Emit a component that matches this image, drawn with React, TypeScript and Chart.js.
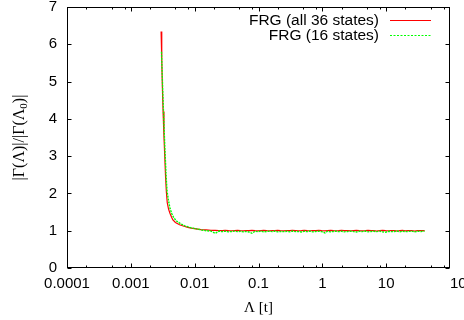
import React, { useEffect, useRef } from 'react';
import { Chart, registerables } from 'chart.js';

Chart.register(...registerables);

const xTickValues = [0.0001, 0.001, 0.01, 0.1, 1, 10, 100];
const xTickLabels = ['0.0001', '0.001', '0.01', '0.1', '1', '10', '100'];
const yTickValues = [0, 1, 2, 3, 4, 5, 6, 7];
const minorFactors = [2, 5, 8];
const seriesNames = ['FRG (all 36 states)', 'FRG (16 states)'];

const flatX = [
  0.021, 0.024, 0.027, 0.03, 0.034, 0.038, 0.042, 0.047, 0.052, 0.058,
  0.064, 0.071, 0.079, 0.088, 0.098, 0.11, 0.12, 0.135, 0.15, 0.165,
  0.18, 0.2, 0.22, 0.25, 0.28, 0.31, 0.34, 0.38, 0.42, 0.47,
  0.52, 0.58, 0.64, 0.71, 0.79, 0.88, 0.98, 1.1, 1.2, 1.35,
  1.5, 1.65, 1.8, 2.0, 2.2, 2.5, 2.8, 3.1, 3.4, 3.8,
  4.2, 4.7, 5.2, 5.8, 6.4, 7.1, 7.9, 8.8, 9.8, 11,
  12, 13.5, 15, 16.5, 18, 20, 22, 25, 28, 31,
  35, 40,
];

const redHeadX = [
  0.00298, 0.00305, 0.00312, 0.0032, 0.0033, 0.0034, 0.0035, 0.0036, 0.00372, 0.0039,
  0.0041, 0.00435, 0.00456, 0.005, 0.0058, 0.0068, 0.0078, 0.0089, 0.0105, 0.0125,
  0.0151, 0.018,
];
const redHeadY = [
  6.34, 5.6, 4.85, 4.2, 3.55, 3.0, 2.45, 2.05, 1.75, 1.58,
  1.47, 1.36, 1.29, 1.22, 1.16, 1.12, 1.09, 1.07, 1.05, 1.03,
  1.02, 1.01,
];
const redFlatY = [
  1.01, 1.005, 1.0, 1.01, 1.0, 0.995, 1.005, 1.01, 1.0, 0.995,
  1.005, 1.0, 1.01, 1.0, 0.995, 1.005, 1.01, 1.0, 0.995, 1.005,
  1.0, 1.01, 1.0, 0.995, 1.005, 1.0, 1.01, 1.005, 0.995, 1.0,
  1.01, 1.0, 0.995, 1.005, 1.0, 1.01, 1.0, 0.995, 1.005, 1.01,
  1.0, 0.995, 1.0, 1.01, 1.005, 1.0, 0.995, 1.005, 1.01, 1.0,
  0.995, 1.0, 1.01, 1.005, 1.0, 0.99, 1.0, 1.01, 1.0, 0.995,
  1.005, 1.0, 0.99, 1.0, 1.01, 0.995, 1.0, 1.005, 0.99, 1.0,
  1.005, 1.0,
];

const greenHeadX = [
  0.00302, 0.0031, 0.0032, 0.0033, 0.0034, 0.0035, 0.0036, 0.0037, 0.0039, 0.0041,
  0.0044, 0.0047, 0.0052, 0.006, 0.007, 0.008, 0.0092, 0.0108, 0.0128, 0.0151,
  0.018,
];
const greenHeadY = [
  5.8, 5.2, 4.5, 3.85, 3.3, 2.8, 2.35, 2.05, 1.8, 1.6,
  1.45, 1.35, 1.26, 1.19, 1.13, 1.1, 1.07, 1.05, 1.02, 1.0,
  0.99,
];
const greenFlatY = [
  0.93, 0.99, 0.975, 0.985, 0.97, 0.98, 0.99, 0.975, 0.985, 0.97,
  0.98, 0.965, 0.93, 0.985, 0.975, 0.99, 0.97, 0.98, 0.985, 0.975,
  0.99, 0.97, 0.98, 0.975, 0.985, 0.97, 0.99, 0.975, 0.98, 0.965,
  0.985, 0.975, 0.99, 0.97, 0.98, 0.985, 0.975, 0.94, 0.985, 0.97,
  0.98, 0.99, 0.975, 0.985, 0.97, 0.98, 0.99, 0.975, 0.965, 0.985,
  0.975, 0.99, 0.97, 0.98, 0.985, 0.975, 0.99, 0.97, 0.96, 0.985,
  0.975, 0.98, 0.99, 0.97, 0.985, 0.975, 0.98, 0.99, 0.97, 0.985,
  0.98, 0.99,
];

const SANS = '"Liberation Sans", Arial, sans-serif';
const SERIF = '"Liberation Serif", "Times New Roman", serif';
const RED = '#ff0000';
const GREEN = '#00ff00';
const LAST = xTickLabels.length - 1;

function toPoints(xs: number[], ys: number[]) {
  return xs.map((x, i) => ({ x, y: ys[i] }));
}

const framePlugin = {
  id: 'gnuplotFrame',
  afterDraw(chart: any) {
    const { ctx, chartArea: a, scales } = chart;
    const xs = scales.x;
    const ys = scales.y;
    ctx.save();
    ctx.strokeStyle = '#000';
    ctx.lineWidth = 1;
    const L = Math.round(a.left) + 0.5;
    const R = Math.round(a.right) - 0.5;
    const T = Math.round(a.top) + 0.5;
    const B = Math.round(a.bottom) - 0.5;
    ctx.strokeRect(L, T, R - L, B - T);
    ctx.beginPath();
    for (let i = 0; i < xTickValues.length; i++) {
      const v = xTickValues[i];
      const px = Math.round(xs.getPixelForValue(v)) + (i === LAST ? -0.5 : 0.5);
      ctx.moveTo(px, B); ctx.lineTo(px, B - 4);
      ctx.moveTo(px, T); ctx.lineTo(px, T + 4);
      if (i < LAST) {
        for (const f of minorFactors) {
          const mx = Math.round(xs.getPixelForValue(v * f)) + 0.5;
          ctx.moveTo(mx, B); ctx.lineTo(mx, B - 2);
          ctx.moveTo(mx, T); ctx.lineTo(mx, T + 2);
        }
      }
    }
    for (const v of yTickValues) {
      const py = Math.round(ys.getPixelForValue(v)) + 0.5;
      ctx.moveTo(L, py); ctx.lineTo(L + 4, py);
      ctx.moveTo(R, py); ctx.lineTo(R - 4, py);
    }
    ctx.stroke();

    // last x tick label, which in the reference starts at the right border
    ctx.font = '15px ' + SANS;
    ctx.fillStyle = '#000';
    ctx.textAlign = 'left';
    ctx.textBaseline = 'top';
    ctx.fillText(xTickLabels[LAST], xs.getPixelForValue(xTickValues[LAST]), a.bottom + 8);

    // legend
    ctx.font = '15.5px ' + SANS;
    ctx.textAlign = 'right';
    ctx.textBaseline = 'middle';
    const rows = [20, 35];
    ctx.fillText(seriesNames[0], 379, rows[0] + 1);
    ctx.fillText(seriesNames[1], 379, rows[1] + 1);
    ctx.beginPath();
    ctx.strokeStyle = RED;
    ctx.lineWidth = 1.2;
    ctx.moveTo(390, rows[0] + 0.5); ctx.lineTo(431, rows[0] + 0.5);
    ctx.stroke();
    ctx.beginPath();
    ctx.strokeStyle = GREEN;
    ctx.lineWidth = 1;
    ctx.setLineDash([2, 1.5]);
    ctx.moveTo(390, rows[1] + 0.5); ctx.lineTo(431, rows[1] + 0.5);
    ctx.stroke();
    ctx.setLineDash([]);

    // axis titles
    ctx.fillStyle = '#000';
    ctx.font = '15px ' + SERIF;
    ctx.textAlign = 'center';
    ctx.textBaseline = 'middle';
    ctx.fillText('\u039B [t]', (a.left + a.right) / 2, 308);

    ctx.translate(19, (a.top + a.bottom) / 2);
    ctx.rotate(-Math.PI / 2);
    const mainFont = '16px ' + SERIF;
    const subFont = '11px ' + SERIF;
    const p1 = '|\u0393(\u039B)|/|\u0393(\u039B';
    const p2 = '0';
    const p3 = ')|';
    ctx.font = mainFont;
    const w1 = ctx.measureText(p1).width;
    const w3 = ctx.measureText(p3).width;
    ctx.font = subFont;
    const w2 = ctx.measureText(p2).width;
    const total = w1 + w2 + w3;
    let cx = -total / 2;
    ctx.textAlign = 'left';
    ctx.textBaseline = 'alphabetic';
    ctx.font = mainFont;
    ctx.fillText(p1, cx, 5);
    cx += w1;
    ctx.font = subFont;
    ctx.fillText(p2, cx, 8);
    cx += w2;
    ctx.font = mainFont;
    ctx.fillText(p3, cx, 5);
    ctx.restore();
  },
};

export default function App() {
  const ref = useRef<HTMLCanvasElement | null>(null);
  useEffect(() => {
    if (!ref.current) return;
    const chart = new Chart(ref.current, {
      type: 'line',
      data: {
        datasets: [
          {
            label: seriesNames[0],
            data: toPoints(redHeadX.concat(flatX), redHeadY.concat(redFlatY)),
            borderColor: RED,
            borderWidth: 1.2,
            pointRadius: 0,
            tension: 0,
            fill: false,
            order: 1,
          },
          {
            label: seriesNames[1],
            data: toPoints(greenHeadX.concat(flatX), greenHeadY.concat(greenFlatY)),
            borderColor: GREEN,
            borderWidth: 1.4,
            borderDash: [2, 1],
            pointRadius: 0,
            tension: 0,
            fill: false,
            order: 0,
          },
        ],
      },
      options: {
        responsive: false,
        animation: false,
        devicePixelRatio: 1,
        layout: { padding: { top: 7, right: 14, left: 0, bottom: 0 } },
        plugins: { legend: { display: false }, tooltip: { enabled: false } },
        scales: {
          x: {
            type: 'logarithmic',
            min: 0.0001,
            max: 100,
            grid: { display: false, drawTicks: false, tickLength: 0 },
            border: { display: false },
            afterBuildTicks: (s: any) => {
              s.ticks = xTickValues.map((v) => ({ value: v }));
            },
            afterFit: (s: any) => {
              s.height = 52;
              s.paddingLeft = 0;
              s.paddingRight = 0;
            },
            ticks: {
              autoSkip: false,
              maxRotation: 0,
              padding: 7,
              color: '#000',
              font: { family: SANS, size: 15 },
              callback: (_v: any, i: number) => (i === LAST ? '' : xTickLabels[i]),
            },
          },
          y: {
            type: 'linear',
            min: 0,
            max: 7,
            grid: { display: false, drawTicks: false, tickLength: 0 },
            border: { display: false },
            afterBuildTicks: (s: any) => {
              s.ticks = yTickValues.map((v) => ({ value: v }));
            },
            afterFit: (s: any) => {
              s.width = 67;
              s.paddingTop = 0;
              s.paddingBottom = 0;
            },
            ticks: {
              padding: 10,
              color: '#000',
              font: { family: SANS, size: 15 },
              callback: (v: any) => String(v),
            },
          },
        },
      },
      plugins: [framePlugin],
    } as any);
    return () => chart.destroy();
  }, []);
  return (
    <div style={{ position: 'fixed', left: 0, top: 0, width: 464, height: 320, background: '#fff' }}>
      <canvas ref={ref} width={464} height={320} style={{ display: 'block' }} />
    </div>
  );
}
